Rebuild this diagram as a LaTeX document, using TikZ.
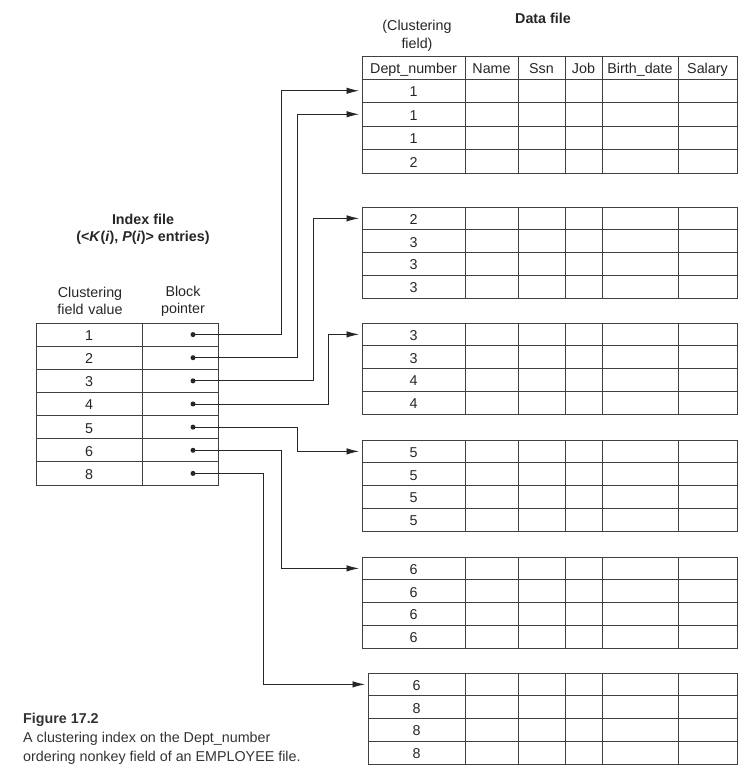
\documentclass[tikz,border=0pt]{standalone}
\usepackage{fontspec}
\setmainfont{Liberation Sans}
\usetikzlibrary{arrows.meta,calc}
\tikzset{
  tab/.style={draw=black!75, line width=0.9pt},
  txt/.style={inner sep=0pt, text=black!85, text height=10pt, text depth=3pt, font=\fontsize{14.3}{17}\selectfont},
  lbl/.style={inner sep=0pt, text=black!85, align=center, font=\fontsize{14.3}{17}\selectfont},
  conn/.style={draw=black!85, line width=0.9pt, -{Latex[length=12.5pt,width=6.5pt]}},
  ptr/.style={circle, fill=black!85, inner sep=0pt, minimum size=5pt}
}
\newcommand{\dblock}[5]{% #1 id, #2 left x, #3 top y, #4 row h, #5 values
  \draw[tab] (#2,#3) rectangle (737,{#3+4*#4});
  \foreach \cx in {465,518,565,602,678} \draw[tab] (\cx,#3) -- (\cx,{#3+4*#4});
  \foreach \r in {1,2,3} \draw[tab] (#2,{#3+\r*#4}) -- (737,{#3+\r*#4});
  \foreach \v [count=\i] in {#5} {
    \node[txt] (#1-\i) at ({(#2+465)/2},{#3+(\i-0.5)*#4+2.5}) {\v};
    \coordinate (#1-in\i) at ({#2-3},{#3+(\i-0.5)*#4});
  }
}
\begin{document}
\begin{tikzpicture}[x=1pt,y=-1pt]
\useasboundingbox (0,0) rectangle (751,780);

% Data file header
\node[lbl, font=\fontsize{14.3}{17}\selectfont\bfseries] (dtitle) at (543,18) {Data file};
\node[lbl, text width=100pt, font=\fontsize{14.3}{18}\selectfont] (cfield) at (417,36) {(Clustering\\field)};
\draw[tab] (362,56) rectangle (737,79);
\foreach \cx in {465,518,565,602,678} \draw[tab] (\cx,56) -- (\cx,79);
\node[txt] (h1) at (413.5,69.5) {Dept\_number};
\node[txt] (h2) at (491.5,69.5) {Name};
\node[txt] (h3) at (541.5,69.5) {Ssn};
\node[txt] (h4) at (583.5,69.5) {Job};
\node[txt] (h5) at (640,69.5) {Birth\_date};
\node[txt] (h6) at (707.5,69.5) {Salary};

% Data blocks
\dblock{b1}{362}{79}{23.5}{1,1,1,2}
\dblock{b2}{362}{207}{22.75}{2,3,3,3}
\dblock{b3}{362}{323}{22.75}{3,3,4,4}
\dblock{b4}{362}{440}{22.75}{5,5,5,5}
\dblock{b5}{362}{557}{22.75}{6,6,6,6}
\dblock{b6}{368}{673}{22.75}{6,8,8,8}

% Index file
\node[lbl, font=\fontsize{14.3}{17}\selectfont\bfseries] (ititle) at (143,219) {Index file};
\node[lbl, font=\fontsize{14.3}{17}\selectfont\bfseries] (isub) at (143,238) {(<\textit{K}(\textit{i}), \textit{P}(\textit{i})> entries)};
\node[lbl, text width=100pt] (ihead1) at (90,301) {Clustering\\field value};
\node[lbl, text width=80pt] (ihead2) at (183,301) {Block\\pointer};

\draw[tab] (36,323) rectangle (218,485);
\draw[tab] (142,323) -- (142,485);
\foreach \r in {1,...,6} \draw[tab] (36,{323+\r*23.14}) -- (218,{323+\r*23.14});
\foreach \v [count=\i] in {1,2,3,4,5,6,8} {
  \node[txt] (k\i) at (89,{323+(\i-0.5)*23.14+2.5}) {\v};
  \node[ptr] (p\i) at (193,{323+(\i-0.5)*23.14}) {};
}

% Connectors
\draw[conn] (p1.center) -- ++(88,0) |- (b1-in1);
\draw[conn] (p2.center) -- ++(104,0) |- (b1-in2);
\draw[conn] (p3.center) -- ++(120,0) |- (b2-in1);
\draw[conn] (p4.center) -- ++(135,0) |- (b3-in1);
\draw[conn] (p5.center) -- ++(104,0) |- (b4-in1);
\draw[conn] (p6.center) -- ++(88,0) |- (b5-in1);
\draw[conn] (p7.center) -- ++(70,0) |- (b6-in1);

% Caption
\node[anchor=north west, align=left, inner sep=0pt, text=black!80,
      font=\fontsize{14.3}{19}\selectfont] (cap) at (23,713)
  {\textbf{Figure 17.2}\\A clustering index on the Dept\_number\\ordering nonkey field of an EMPLOYEE file.};
\end{tikzpicture}
\end{document}
